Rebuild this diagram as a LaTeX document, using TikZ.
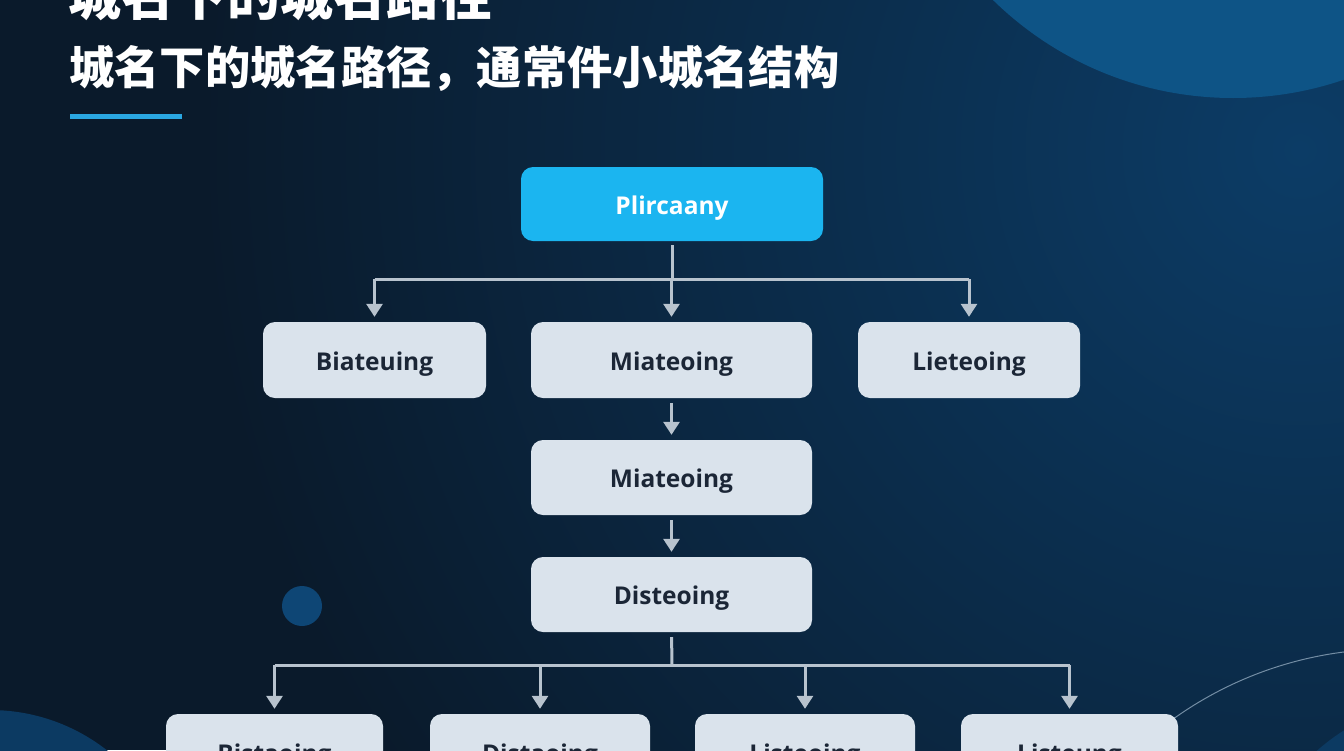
\documentclass[tikz,border=0pt]{standalone}
\usepackage{fontspec}
\setmainfont{Open Sans}
\newfontfamily\cjk{Noto Sans CJK SC}
\usetikzlibrary{arrows.meta}
\definecolor{bgdark}{HTML}{0A1A2B}
\definecolor{bglight}{HTML}{0C3C66}
\definecolor{circA}{HTML}{0E5486}
\definecolor{circB}{HTML}{0E4675}
\definecolor{circC}{HTML}{0C3A62}
\definecolor{boxfill}{HTML}{DAE3EC}
\definecolor{boxtext}{HTML}{1B2636}
\definecolor{topfill}{HTML}{1BB5F0}
\definecolor{connc}{HTML}{B8C3CE}
\definecolor{accent}{HTML}{2AA7E1}
\tikzset{
  box/.style={rounded corners=12pt, fill=boxfill, text=boxtext, inner sep=0pt,
    text height=20pt, text depth=0pt,
    font=\bfseries\fontsize{24.5}{30}\selectfont},
  topbox/.style={box, fill=topfill, text=white},
  cline/.style={draw=connc, line width=3pt},
  carrow/.style={cline, -{Triangle[width=16pt,length=13pt]}, shorten >=5pt},
}
\begin{document}
\begin{tikzpicture}[x=1pt,y=-1pt]
\useasboundingbox (0,0) rectangle (1344,750);
\begin{scope}
\clip (0,0) rectangle (1344,750);
\fill[bgdark] (0,0) rectangle (1344,750);
\shade[inner color=bglight, outer color=bgdark] (1300,150) circle (1100);
\fill[circA] (1233,-245) circle (343);
\fill[circC] (-10,900) circle (190);
\fill[circC] (1450,900) circle (200);
\draw[connc!60!bglight, line width=1pt] (1391,1023) ++(215:374) arc[start angle=215, end angle=270, radius=374];
\fill[circB] (302,606) circle (20);
\end{scope}
% titles
\node[anchor=base west, inner sep=0pt, text=white, font=\cjk\bfseries\fontsize{53}{60}\selectfont] (t1) at (68,15) {城名下的城名路径};
\node[anchor=base west, inner sep=0pt, text=white, font=\cjk\bfseries\fontsize{45.3}{52}\selectfont] (t2) at (69,84) {城名下的城名路径，通常件小城名结构};
\fill[accent] (70,114) rectangle (182,119);
% nodes
\node[topbox, minimum width=302pt, minimum height=74pt] (top) at (672,204) {Plircaany};
\node[box, minimum width=223pt, minimum height=76pt] (A) at (374.5,360) {Biateuing};
\node[box, minimum width=281pt, minimum height=76pt] (B) at (671.5,360) {Miateoing};
\node[box, minimum width=222pt, minimum height=76pt] (C) at (969,360) {Lieteoing};
\node[box, minimum width=281pt, minimum height=75pt] (D) at (671.5,477.5) {Miateoing};
\node[box, minimum width=281pt, minimum height=75pt] (E) at (671.5,594.5) {Disteoing};
\node[box, minimum width=217pt, minimum height=76pt] (F1) at (274.5,752) {Bistaoing};
\node[box, minimum width=220pt, minimum height=76pt] (F2) at (540,752) {Distaoing};
\node[box, minimum width=220pt, minimum height=76pt] (F3) at (805,752) {Listeoing};
\node[box, minimum width=217pt, minimum height=76pt] (F4) at (1069.5,752) {Listeung};
% connectors
\coordinate (bus1) at (672,279);
\coordinate (bus2) at (672,665);
\draw[cline, shorten <=4pt] (top.south) -- (bus1);
\draw[cline] (A.north |- bus1) -- (C.north |- bus1);
\foreach \n in {A,B,C} \draw[carrow] (\n.north |- bus1) -- (\n.north);
\draw[carrow, shorten <=5pt] (B.south) -- (D.north);
\draw[carrow, shorten <=5pt] (D.south) -- (E.north);
\draw[cline, shorten <=5pt] (E.south) -- (bus2);
\draw[cline] (F1.north |- bus2) -- (F4.north |- bus2);
\foreach \n in {F1,F2,F3,F4} \draw[carrow] (\n.north |- bus2) -- (\n.north);
\end{tikzpicture}
\end{document}
